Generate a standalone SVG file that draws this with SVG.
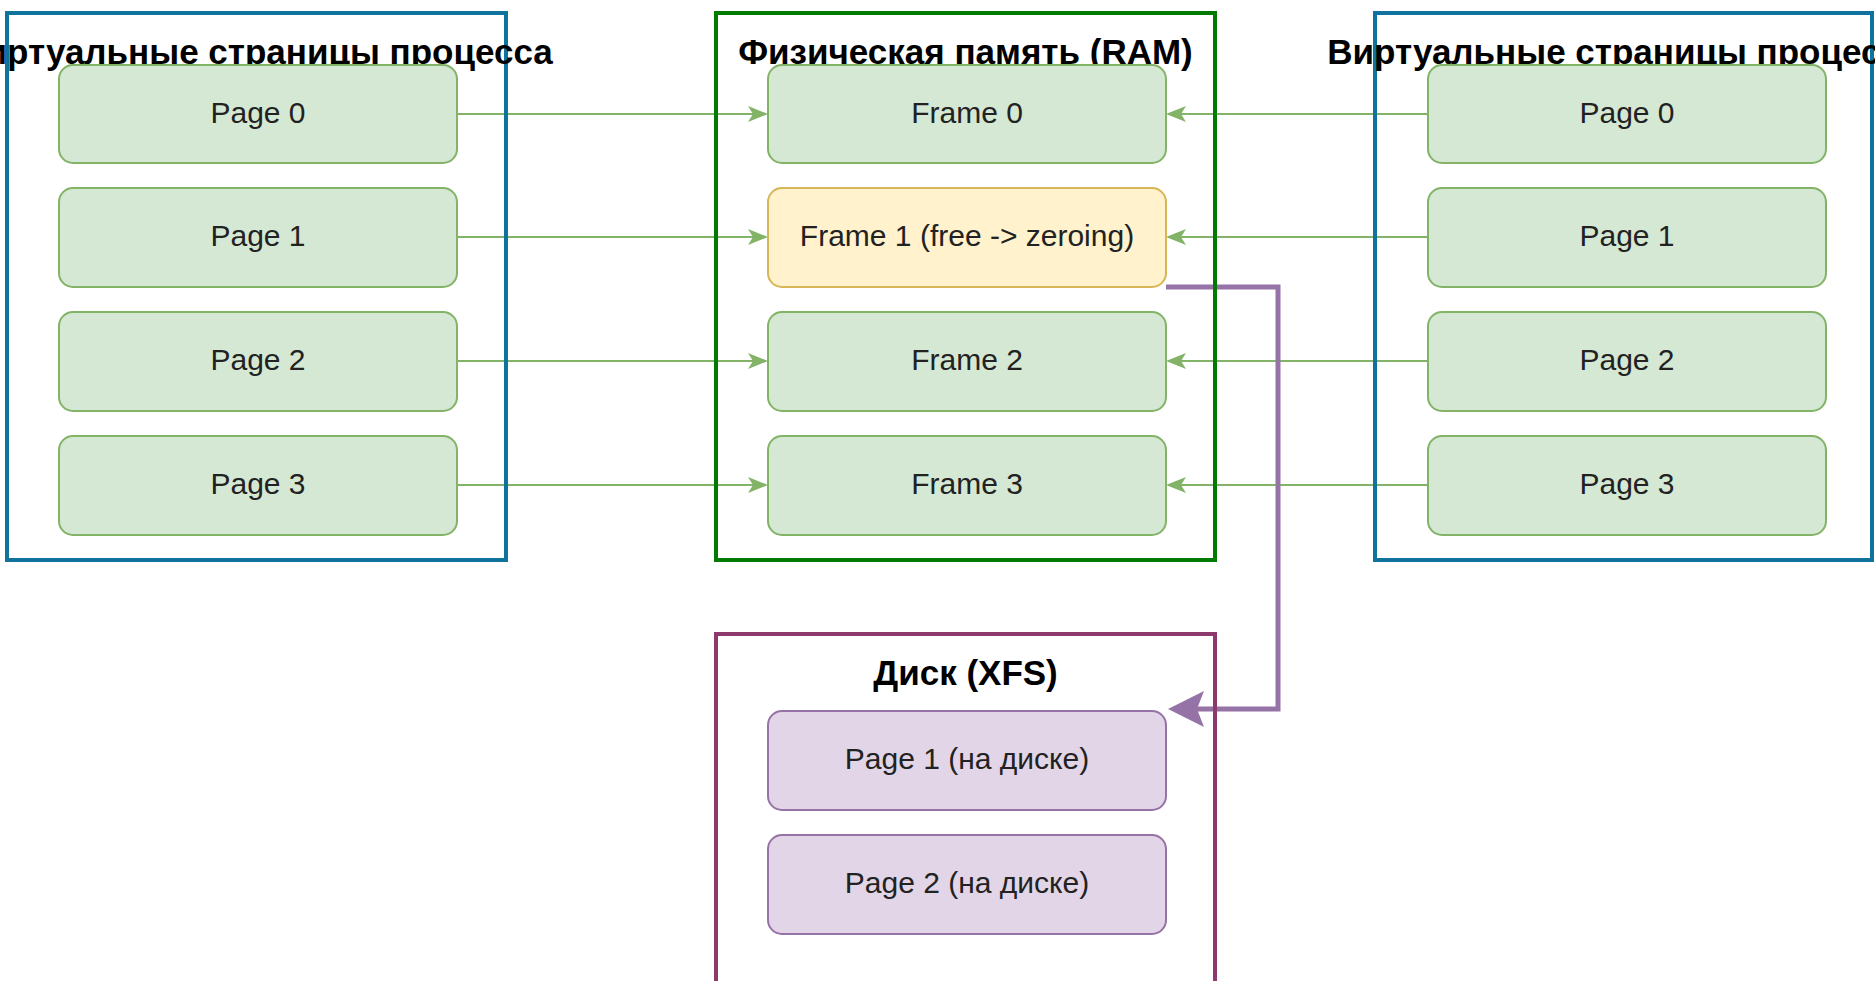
<svg xmlns="http://www.w3.org/2000/svg" width="1875" height="981" viewBox="0 0 1875 981">
<style>
.cont{fill:none;stroke-width:4}
.title{font-family:"Liberation Sans",Arial,sans-serif;font-weight:bold;font-size:35px;fill:#000;text-anchor:middle}
.lbl{font-family:"Liberation Sans",Arial,sans-serif;font-size:30px;fill:#222;text-anchor:middle}
.pg{fill:#d5e8d4;stroke:#82b366;stroke-width:2}
.fr1{fill:#fff2cc;stroke:#d6b656;stroke-width:2}
.dk{fill:#e1d5e7;stroke:#9673a6;stroke-width:2}
.ga{fill:none;stroke:#82b366;stroke-width:2;marker-end:url(#garr)}
.pa{fill:none;stroke:#9673a6;stroke-width:5;marker-end:url(#parr)}
</style>
<defs>
<marker id="garr" markerUnits="userSpaceOnUse" markerWidth="22" markerHeight="18" refX="5" refY="8" orient="auto" overflow="visible">
<path d="M0,0 L20,8 L0,16 L5,8 Z" fill="#82b366"/>
</marker>
<marker id="parr" markerUnits="userSpaceOnUse" markerWidth="38" markerHeight="38" refX="7" refY="18" orient="auto" overflow="visible">
<path d="M0,0 L36,18 L0,36 L7,18 Z" fill="#9673a6"/>
</marker>
</defs>
<rect x="0" y="0" width="1875" height="981" fill="#fff"/>
<g id="connectors">
<path class="ga" d="M457,114 H753"/>
<path class="ga" d="M457,237 H753"/>
<path class="ga" d="M457,361 H753"/>
<path class="ga" d="M457,485 H753"/>
<path class="ga" d="M1428,114 H1181"/>
<path class="ga" d="M1428,237 H1181"/>
<path class="ga" d="M1428,361 H1181"/>
<path class="ga" d="M1428,485 H1181"/>
<path class="pa" d="M1166,287 H1278 V709 H1197"/>
</g>
<g id="virt-left">
<rect class="cont" x="7" y="13" width="499" height="547" stroke="#10739e"/>
<text class="title" x="256.5" y="64">Виртуальные страницы процесса</text>
</g>
<g id="ram">
<rect class="cont" x="716" y="13" width="499" height="547" stroke="#007a00"/>
<text class="title" x="965.5" y="64">Физическая память (RAM)</text>
</g>
<g id="virt-right">
<rect class="cont" x="1375" y="13" width="497" height="547" stroke="#10739e"/>
<text class="title" x="1623.5" y="64">Виртуальные страницы процесса</text>
</g>
<g id="disk">
<rect class="cont" x="716" y="634" width="499" height="349" stroke="#8c3a6b"/>
<text class="title" x="965.5" y="685">Диск (XFS)</text>
</g>
<g id="l-page0"><rect class="pg" x="59" y="65" width="398" height="98" rx="14"/><text class="lbl" x="258" y="123">Page 0</text></g>
<g id="l-page1"><rect class="pg" x="59" y="188" width="398" height="99" rx="14"/><text class="lbl" x="258" y="246">Page 1</text></g>
<g id="l-page2"><rect class="pg" x="59" y="312" width="398" height="99" rx="14"/><text class="lbl" x="258" y="370">Page 2</text></g>
<g id="l-page3"><rect class="pg" x="59" y="436" width="398" height="99" rx="14"/><text class="lbl" x="258" y="494">Page 3</text></g>
<g id="frame0"><rect class="pg" x="768" y="65" width="398" height="98" rx="14"/><text class="lbl" x="967" y="123">Frame 0</text></g>
<g id="frame1"><rect class="fr1" x="768" y="188" width="398" height="99" rx="14"/><text class="lbl" x="967" y="246">Frame 1 (free -&gt; zeroing)</text></g>
<g id="frame2"><rect class="pg" x="768" y="312" width="398" height="99" rx="14"/><text class="lbl" x="967" y="370">Frame 2</text></g>
<g id="frame3"><rect class="pg" x="768" y="436" width="398" height="99" rx="14"/><text class="lbl" x="967" y="494">Frame 3</text></g>
<g id="r-page0"><rect class="pg" x="1428" y="65" width="398" height="98" rx="14"/><text class="lbl" x="1627" y="123">Page 0</text></g>
<g id="r-page1"><rect class="pg" x="1428" y="188" width="398" height="99" rx="14"/><text class="lbl" x="1627" y="246">Page 1</text></g>
<g id="r-page2"><rect class="pg" x="1428" y="312" width="398" height="99" rx="14"/><text class="lbl" x="1627" y="370">Page 2</text></g>
<g id="r-page3"><rect class="pg" x="1428" y="436" width="398" height="99" rx="14"/><text class="lbl" x="1627" y="494">Page 3</text></g>
<g id="disk-page1"><rect class="dk" x="768" y="711" width="398" height="99" rx="14"/><text class="lbl" x="967" y="769">Page 1 (на диске)</text></g>
<g id="disk-page2"><rect class="dk" x="768" y="835" width="398" height="99" rx="14"/><text class="lbl" x="967" y="893">Page 2 (на диске)</text></g>
</svg>
